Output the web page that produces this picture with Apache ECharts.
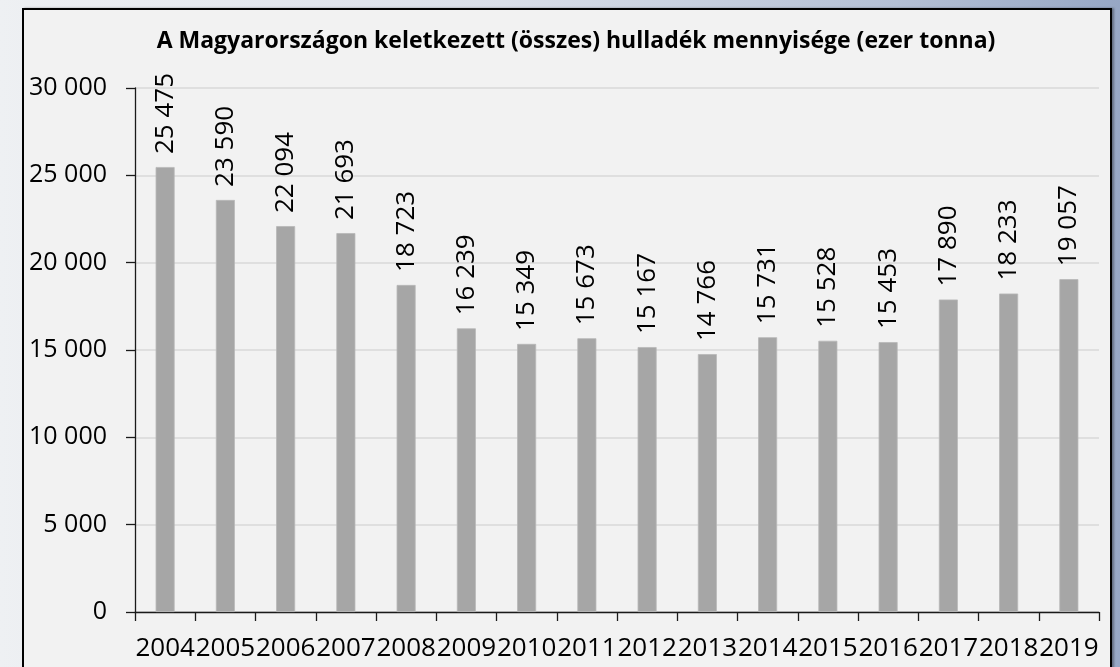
<!DOCTYPE html>
<html>
<head>
<meta charset="utf-8">
<script src="https://cdn.jsdelivr.net/npm/echarts@6/dist/echarts.min.js"></script>
<style>
  html, body { margin: 0; padding: 0; width: 1120px; height: 667px; overflow: hidden; }
  body { background: linear-gradient(90deg, #eef0f3 0%, #d9dee8 45%, #b4c0d5 80%, #97a7c5 100%); position: relative; }
  #frame { position: absolute; left: 22px; top: 8px; width: 1086px; height: 680px; border: 2px solid #000; background: #f2f2f2; box-shadow: 2px 0 2px rgba(0,0,0,0.35); }
  #chart { position: absolute; left: 0; top: 0; width: 1120px; height: 667px; }
</style>
</head>
<body>
<div id="frame"></div>
<div id="chart"></div>
<script>
const years = ['2004', '2005', '2006', '2007', '2008', '2009', '2010', '2011', '2012', '2013', '2014', '2015', '2016', '2017', '2018', '2019']
const wasteValues = [25475, 23590, 22094, 21693, 18723, 16239, 15349, 15673, 15167, 14766, 15731, 15528, 15453, 17890, 18233, 19057]
const title = 'A Magyarországon keletkezett (összes) hulladék mennyisége (ezer tonna)'

const fmt = v => String(v).replace(/\B(?=(\d{3})+(?!\d))/g, ' ')
const font = '"Open Sans", "Liberation Sans", sans-serif'

const chart = echarts.init(document.getElementById('chart'), null, { renderer: 'canvas' })
chart.setOption({
  backgroundColor: 'transparent',
  animation: false,
  title: {
    text: title,
    left: 571,
    top: 25,
    textAlign: 'center',
    textStyle: { fontFamily: font, fontSize: 23, fontWeight: 'bold', color: '#000' },
  },
  grid: { left: 135, right: 21, top: 88, bottom: 55 },
  xAxis: {
    type: 'category',
    data: years,
    boundaryGap: true,
    axisLine: { lineStyle: { color: '#1a1a1a', width: 1.3 } },
    axisTick: { show: true, length: 9, alignWithLabel: false, lineStyle: { color: '#1a1a1a', width: 1.3 } },
    axisLabel: { fontFamily: font, fontSize: 26, color: '#000', margin: 24, interval: 0 },
  },
  yAxis: {
    type: 'value',
    min: 0,
    max: 30000,
    interval: 5000,
    axisLine: { show: true, lineStyle: { color: '#1a1a1a', width: 1.3 } },
    axisTick: { show: true, length: 9, lineStyle: { color: '#1a1a1a', width: 1.3 } },
    splitLine: { lineStyle: { color: '#d9d9d9', width: 1.5 } },
    axisLabel: { fontFamily: font, fontSize: 25, color: '#000', margin: 28, formatter: fmt },
  },
  series: [
    {
      type: 'bar',
      data: wasteValues,
      barWidth: 19,
      itemStyle: { color: '#a6a6a6', borderColor: '#b8b8b8', borderWidth: 0.8 },
      label: {
        show: true,
        position: 'top',
        rotate: 90,
        align: 'left',
        verticalAlign: 'middle',
        distance: 13,
        fontFamily: font,
        fontSize: 26,
        color: '#000',
        formatter: p => fmt(p.value),
      },
    },
  ],
})
</script>
</body>
</html>
